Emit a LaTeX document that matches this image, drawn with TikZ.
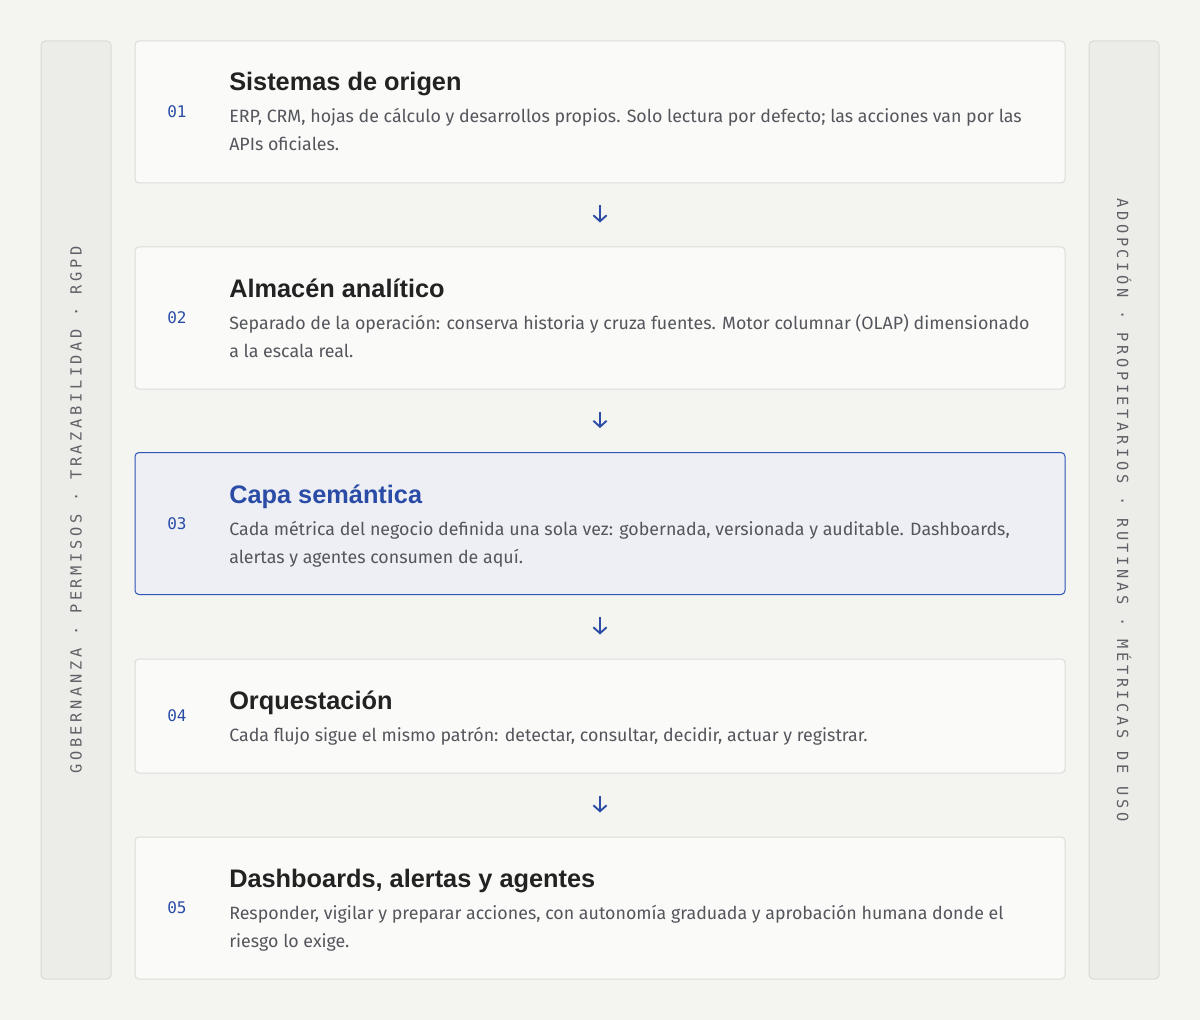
\documentclass[tikz,border=0pt]{standalone}
\usepackage{fontspec}
\setmainfont{Fira Sans}
\newfontfamily\headfont{Liberation Sans}
\newfontfamily\codefont{DejaVu Sans Mono}
\newfontfamily\railfont{DejaVu Sans Mono}[LetterSpace=23.6]
\usetikzlibrary{arrows.meta}

\definecolor{pagebg}{HTML}{F4F4F0}
\definecolor{cardfill}{HTML}{FAFAF8}
\definecolor{cardline}{HTML}{DCDCD7}
\definecolor{hifill}{HTML}{EEEFF4}
\definecolor{hiline}{HTML}{2E54B4}
\definecolor{railfill}{HTML}{ECECE9}
\definecolor{railline}{HTML}{DADAD6}
\definecolor{inkblue}{HTML}{2A4CA6}
\definecolor{headink}{HTML}{222222}
\definecolor{bodyink}{HTML}{54565C}
\definecolor{railink}{HTML}{5F6166}

\tikzset{
  card/.style={draw=cardline, fill=cardfill, line width=0.75pt, rounded corners=3pt,
    minimum width=697.5pt, minimum height=106.5pt, inner sep=0pt},
  hicard/.style={card, draw=hiline, fill=hifill},
  rail/.style={draw=railline, fill=railfill, line width=0.75pt, rounded corners=3pt,
    minimum width=52.5pt, minimum height=703.5pt, inner sep=0pt},
  railtext/.style={font=\railfont\fontsize{11.5pt}{13pt}\selectfont, text=railink, inner sep=0pt},
  numtag/.style={font=\codefont\fontsize{12pt}{14pt}\selectfont, text=inkblue, inner sep=0pt, anchor=west},
  headtext/.style={font=\headfont\bfseries\fontsize{19pt}{22pt}\selectfont, text=headink, inner sep=0pt, anchor=base west},
  bodytext/.style={font=\fontsize{13.35pt}{21pt}\selectfont, text=bodyink, inner sep=0pt, anchor=base west},
  flowarrow/.style={draw=inkblue, line width=1.4pt, -{Straight Barb[length=4.5pt,width=10pt]},
    shorten <=16.5pt, shorten >=18pt}
}

\begin{document}
\begin{tikzpicture}[x=0.75pt,y=0.75pt,yscale=-1,xscale=1]
%page
\path[use as bounding box, fill=pagebg] (0,0) rectangle (1200,1020);

%Side rails
\node[rail] (railL) at (76,510) {};
\node[rail] (railR) at (1124,510) {};
\node[railtext, rotate=90] (govern) at (railL.center) {GOBERNANZA · PERMISOS · TRAZABILIDAD · RGPD};
\node[railtext, rotate=-90] (adopt) at (railR.center) {ADOPCIÓN · PROPIETARIOS · RUTINAS · MÉTRICAS DE USO};

%Cards
\node[card] (b1) at (600,112) {};
\node[card] (b2) at (600,318) {};
\node[hicard] (b3) at (600,523.5) {};
\node[card, minimum height=85.5pt] (b4) at (600,716) {};
\node[card] (b5) at (600,908) {};

% Text Node
\node[numtag] (n1) at (167,112) {01};
\node[headtext] (h1) at (229,91) {Sistemas de origen};
\node[bodytext] (d1) at (229,123) {ERP, CRM, hojas de cálculo y desarrollos propios. Solo lectura por defecto; las acciones van por las};
\node[bodytext] (e1) at (229,151) {APIs oficiales.};

% Text Node
\node[numtag] (n2) at (167,318) {02};
\node[headtext] (h2) at (229,297) {Almacén analítico};
\node[bodytext] (d2) at (229,329) {Separado de la operación: conserva historia y cruza fuentes. Motor columnar (OLAP) dimensionado};
\node[bodytext] (e2) at (229,357) {a la escala real.};

% Text Node
\node[numtag] (n3) at (167,523.5) {03};
\node[headtext, text=inkblue] (h3) at (229,503) {Capa semántica};
\node[bodytext] (d3) at (229,535) {Cada métrica del negocio definida una sola vez: gobernada, versionada y auditable. Dashboards,};
\node[bodytext] (e3) at (229,563) {alertas y agentes consumen de aquí.};

% Text Node
\node[numtag] (n4) at (167,716) {04};
\node[headtext] (h4) at (229,709) {Orquestación};
\node[bodytext] (d4) at (229,741) {Cada flujo sigue el mismo patrón: detectar, consultar, decidir, actuar y registrar.};

% Text Node
\node[numtag] (n5) at (167,908) {05};
\node[headtext] (h5) at (229,887) {Dashboards, alertas y agentes};
\node[bodytext] (d5) at (229,919) {Responder, vigilar y preparar acciones, con autonomía graduada y aprobación humana donde el};
\node[bodytext] (e5) at (229,947) {riesgo lo exige.};

%Arrows
\draw[flowarrow] (b1) -- (b2);
\draw[flowarrow] (b2) -- (b3);
\draw[flowarrow] (b3) -- (b4);
\draw[flowarrow] (b4) -- (b5);

\end{tikzpicture}
\end{document}
